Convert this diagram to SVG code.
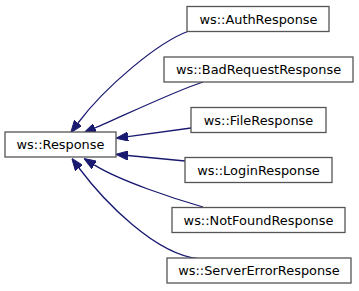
<svg xmlns="http://www.w3.org/2000/svg" width="359" height="291" viewBox="0 0 359 291">
  <style>
    .node rect { fill: #ffffff; stroke: #555555; stroke-width: 1.3; }
    .node text { font-family: "DejaVu Sans", "Liberation Sans", sans-serif; font-size: 12.9px; fill: #000000; text-anchor: middle; }
    .edge { fill: none; stroke: #191970; stroke-width: 1.3; marker-end: url(#arrow); }
  </style>
  <defs>
    <marker id="arrow" viewBox="0 0 12 9" refX="0" refY="4.5" markerWidth="12" markerHeight="9" markerUnits="userSpaceOnUse" orient="auto">
      <path d="M0,0 L12,4.5 L0,9 Z" fill="#191970" stroke="#191970" stroke-width="1"/>
    </marker>
  </defs>

  <rect width="359" height="291" fill="#ffffff"/>

  <!-- inheritance edges: each derived class points at ws::Response -->
  <g id="edges">
    <path class="edge" d="M189,31 C158,42 105,87 78,123"/>
    <path class="edge" d="M203,82 C175,91 123,116 95,128"/>
    <path class="edge" d="M191,128 L128,136.6"/>
    <path class="edge" d="M185,161 L128,155.5"/>
    <path class="edge" d="M203,207 C175,199 120,181 94.2,164.9"/>
    <path class="edge" d="M200,259 C155,255 103,200 79,168"/>
  </g>

  <g id="node-response" class="node">
    <rect x="5" y="132" width="111" height="25"/>
    <text x="60.5" y="149">ws::Response</text>
  </g>
  <g id="node-auth" class="node">
    <rect x="187" y="6.5" width="142" height="25"/>
    <text x="258.5" y="23.5">ws::AuthResponse</text>
  </g>
  <g id="node-badrequest" class="node">
    <rect x="164" y="57" width="189" height="25"/>
    <text x="258.5" y="74">ws::BadRequestResponse</text>
  </g>
  <g id="node-file" class="node">
    <rect x="191" y="107.5" width="135" height="25"/>
    <text x="258.5" y="124.5">ws::FileResponse</text>
  </g>
  <g id="node-login" class="node">
    <rect x="185" y="157.5" width="147" height="25"/>
    <text x="258.5" y="174.5">ws::LoginResponse</text>
  </g>
  <g id="node-notfound" class="node">
    <rect x="172" y="207.5" width="173" height="25"/>
    <text x="258.5" y="224.5">ws::NotFoundResponse</text>
  </g>
  <g id="node-servererror" class="node">
    <rect x="167" y="258" width="184" height="25"/>
    <text x="259" y="275">ws::ServerErrorResponse</text>
  </g>
</svg>
